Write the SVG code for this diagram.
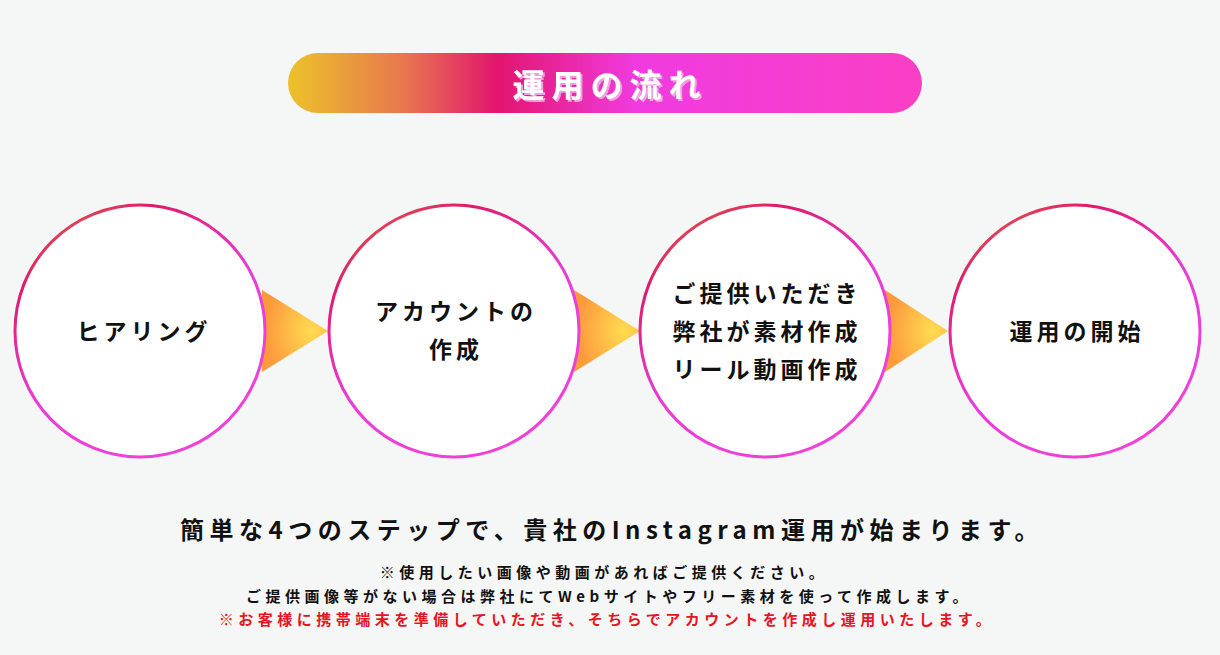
<svg xmlns="http://www.w3.org/2000/svg" width="1220" height="655" viewBox="0 0 1220 655">
<defs>
<linearGradient id="pill" x1="0" y1="0" x2="1" y2="0">
<stop offset="0" stop-color="#ecc22a"/><stop offset="0.18" stop-color="#e8784e"/><stop offset="0.33" stop-color="#e2156e"/><stop offset="0.55" stop-color="#f13be0"/><stop offset="1" stop-color="#f93fc4"/>
</linearGradient>
<linearGradient id="ring" x1="0" y1="0" x2="0.6" y2="1">
<stop offset="0" stop-color="#e07a3a"/><stop offset="0.25" stop-color="#e01a6a"/><stop offset="0.6" stop-color="#e83cd8"/><stop offset="1" stop-color="#f040d8"/>
</linearGradient>
<radialGradient id="tri" cx="0.75" cy="0.5" r="0.7">
<stop offset="0" stop-color="#ffdc50"/><stop offset="1" stop-color="#fd9a3c"/>
</radialGradient>
<filter id="sh"><feDropShadow dx="2" dy="2" stdDeviation="0" flood-color="#f0a0e0"/></filter>
</defs>
<style>
.c{fill:#fff;stroke:url(#ring);stroke-width:3}
.t{font-family:"Noto Sans CJK JP",sans-serif;font-weight:bold;font-size:23px;fill:#111;text-anchor:middle;letter-spacing:4px}
.s{font-family:"Noto Sans CJK JP",sans-serif;font-weight:bold;font-size:15px;fill:#111;text-anchor:middle;letter-spacing:4.5px}
</style>
<rect width="1220" height="655" fill="#f5f6f6"/>
<g id="title">
<rect x="288" y="53" width="634" height="60" rx="30" fill="url(#pill)"/>
<text x="610" y="97" font-family="Noto Sans CJK JP,sans-serif" font-weight="bold" font-size="32" fill="#fff" text-anchor="middle" letter-spacing="7" filter="url(#sh)">運用の流れ</text>
</g>
<g id="connectors">
<polygon points="262,290 328,331 262,372" fill="url(#tri)"/>
<polygon points="574,290 640,331 574,372" fill="url(#tri)"/>
<polygon points="885,290 948,331 885,372" fill="url(#tri)"/>
</g>
<g id="n1"><ellipse class="c" cx="140" cy="331" rx="125" ry="126"/><text class="t" x="144" y="340">ヒアリング</text></g>
<g id="n2"><ellipse class="c" cx="454" cy="331" rx="125" ry="126"/><text class="t" x="456" y="320">アカウントの</text><text class="t" x="456" y="358">作成</text></g>
<g id="n3"><ellipse class="c" cx="765" cy="331" rx="125" ry="126"/><text class="t" x="767" y="302">ご提供いただき</text><text class="t" x="767" y="340">弊社が素材作成</text><text class="t" x="767" y="378">リール動画作成</text></g>
<g id="n4"><ellipse class="c" cx="1075" cy="331" rx="125" ry="126"/><text class="t" x="1077" y="340">運用の開始</text></g>
<g id="notes">
<text x="612" y="539" font-family="Noto Sans CJK JP,sans-serif" font-weight="bold" font-size="24" fill="#111" text-anchor="middle" letter-spacing="5.5">簡単な4つのステップで、貴社のInstagram運用が始まります。</text>
<text class="s" x="604" y="578">※使用したい画像や動画があればご提供ください。</text>
<text class="s" x="609" y="602">ご提供画像等がない場合は弊社にてWebサイトやフリー素材を使って作成します。</text>
<text class="s" x="607" y="625" style="fill:#e8141e">※お客様に携帯端末を準備していただき、そちらでアカウントを作成し運用いたします。</text>
</g>
</svg>
